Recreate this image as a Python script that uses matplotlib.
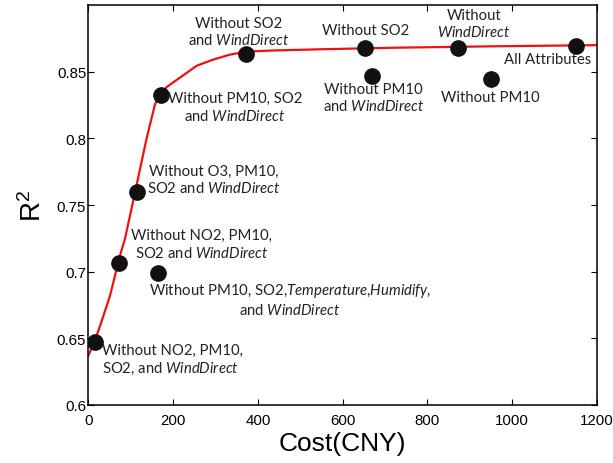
import matplotlib
matplotlib.use('Agg')
import matplotlib.pyplot as plt

# measured points: cost vs R^2 for each attribute subset
cost = [16, 72, 164, 115, 171, 371, 652, 670, 872, 950, 1150]
r2 = [0.647, 0.7065, 0.699, 0.760, 0.8326, 0.8636, 0.8674, 0.847, 0.8676, 0.8447, 0.8694]
labels = [
    'Without NO2, PM10,\nSO2, and $\\mathit{WindDirect}$',
    'Without NO2, PM10,\nSO2 and $\\mathit{WindDirect}$',
    'Without PM10, SO2,$\\mathit{Temperature}$,$\\mathit{Humidify}$,\nand $\\mathit{WindDirect}$',
    'Without O3, PM10,\nSO2 and $\\mathit{WindDirect}$',
    'Without PM10, SO2\nand $\\mathit{WindDirect}$',
    'Without SO2\nand $\\mathit{WindDirect}$',
    'Without SO2',
    'Without PM10\nand $\\mathit{WindDirect}$',
    'Without\n$\\mathit{WindDirect}$',
    'Without PM10',
    'All Attributes',
]

# fitted curve
fit_cost = [0, 14, 27.6, 51.1, 74.7, 86.5, 114, 137.6, 157.2, 170, 185, 216, 256, 294, 334, 374, 435, 546, 726, 946, 1200]
fit_r2 = [0.637, 0.647, 0.6591, 0.6818, 0.712, 0.7246, 0.7649, 0.800, 0.8253, 0.8335, 0.8385, 0.8455, 0.8545, 0.859, 0.8628, 0.8651, 0.8659, 0.8668, 0.868, 0.869, 0.8699]

plt.rcParams['mathtext.fontset'] = 'custom'
plt.rcParams['mathtext.it'] = 'Lato:italic'
plt.rcParams['mathtext.rm'] = 'Lato'
plt.rcParams['mathtext.sf'] = 'Liberation Sans'

fig = plt.figure(figsize=(6.13, 4.64), dpi=100)
ax = fig.add_axes([0.144, 0.125, 0.83, 0.862])

ax.plot(fit_cost, fit_r2, color='#ee1111', lw=1.6, zorder=2)
ax.plot(cost, r2, 'o', color='#111111', ms=11, zorder=3)

# label placement (pixel offsets from each point)
offsets = [(7, -17, 'left'), (83, 19, 'center'), (132, -26, 'center'), (77, 12, 'center'),
           (74, -12, 'center'), (-7, 22, 'center'), (1, 18, 'center'), (1, -22, 'center'),
           (16, 25, 'center'), (-1, -18, 'center'), (-28, -13, 'center')]
for x, y, lab, (dx, dy, ha) in zip(cost, r2, labels, offsets):
    ax.annotate(lab, (x, y), xytext=(dx, dy), textcoords='offset pixels',
                ha=ha, va='center', ma=ha, fontsize=10.7, family='Lato',
                color='#222222', zorder=4)

ax.set_xlim(0, 1200)
ax.set_ylim(0.6, 0.9)
ax.set_xticks([0, 200, 400, 600, 800, 1000, 1200])
ax.set_yticks([0.6, 0.65, 0.7, 0.75, 0.8, 0.85])
ax.set_yticklabels(['0.6', '0.65', '0.7', '0.75', '0.8', '0.85'])
ax.tick_params(direction='in', top=True, right=True, length=4, width=0.8,
               labelsize=10.8)
ax.tick_params(axis='x', pad=6)
ax.tick_params(axis='y', pad=1.5)
for t in ax.get_xticklabels() + ax.get_yticklabels():
    t.set_family('Liberation Sans')
for s in ax.spines.values():
    s.set_linewidth(1.1)

ax.set_xlabel('Cost(CNY)', fontsize=19, family='Liberation Sans', labelpad=3)
ax.set_ylabel('R$^\\mathsf{2}$', fontsize=20, family='Liberation Sans', labelpad=7)

fig.savefig('out.png', dpi=100)
